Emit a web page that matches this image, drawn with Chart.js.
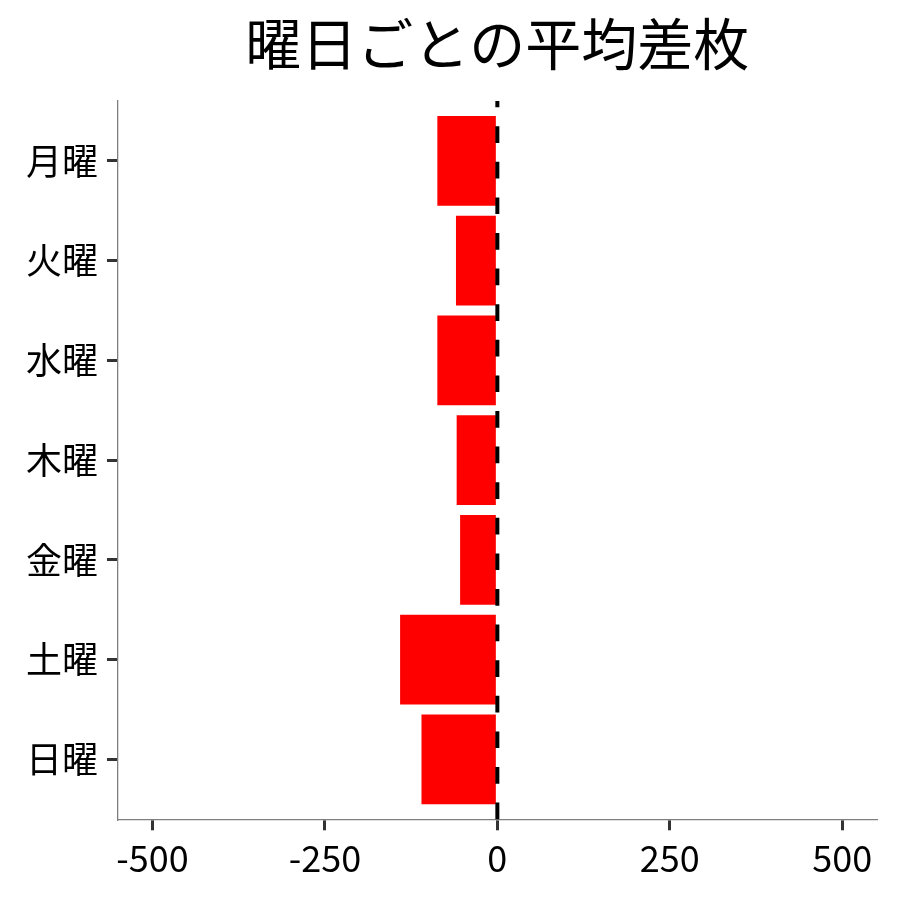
<!DOCTYPE html>
<html>
<head>
<meta charset="utf-8">
<script src="https://cdn.jsdelivr.net/npm/chart.js@4"></script>
<style>
  body { margin: 0; background: #fff; }
</style>
</head>
<body>
<canvas id="myChart" width="900" height="900"></canvas>
<script>
const titleText = "曜日ごとの平均差枚";
const days = ["月曜", "火曜", "水曜", "木曜", "金曜", "土曜", "日曜"];
const avgDiff = [-87, -60, -87, -59, -54, -141, -110];
const xTicks = [-500, -250, 0, 250, 500];

const fontFamily = "'Noto Sans CJK JP', 'Noto Sans', sans-serif";

// title centred over the plot panel, not the whole canvas
const panelTitle = {
    id: "panelTitle",
    afterDraw(chart) {
        const c = chart.ctx;
        const area = chart.chartArea;
        c.save();
        c.fillStyle = "#000";
        c.font = "56px " + fontFamily;
        c.textAlign = "center";
        c.textBaseline = "middle";
        c.fillText(titleText, (area.left + area.right) / 2, 44);
        c.restore();
    }
};

// dashed reference line at x = 0
const zeroLine = {
    id: "zeroLine",
    afterDatasetsDraw(chart) {
        const c = chart.ctx;
        const area = chart.chartArea;
        const x = chart.scales.x.getPixelForValue(0);
        c.save();
        c.strokeStyle = "#000";
        c.lineWidth = 4;
        c.setLineDash([16.7, 18.9]);
        c.beginPath();
        c.moveTo(x, area.bottom);
        c.lineTo(x, area.top);
        c.stroke();
        c.restore();
    }
};

const tickGrid = {
    drawOnChartArea: false,
    offset: false,
    tickLength: 11,
    lineWidth: 3,
    tickWidth: 3,
    tickColor: "#333"
};

const ctx = document.getElementById("myChart");
const myChart = new Chart(ctx, {
    type: "bar",
    data: {
        datasets: [{
            data: avgDiff.map((v, i) => ({ x: v, y: i })),
            backgroundColor: "#ff0000",
            borderWidth: 0,
            barPercentage: 0.9,
            categoryPercentage: 1.0
        }]
    },
    options: {
        indexAxis: "y",
        responsive: false,
        animation: false,
        layout: { padding: { top: 101, right: 23.3, left: 0, bottom: 0 } },
        plugins: {
            legend: { display: false },
            tooltip: { enabled: false },
            title: { display: false }
        },
        scales: {
            x: {
                type: "linear",
                min: -550,
                max: 550,
                offset: false,
                afterBuildTicks: scale => { scale.ticks = xTicks.map(v => ({ value: v })); },
                afterFit: scale => { scale.height = 80.7; },
                border: { color: "#7f7f7f", width: 1.3 },
                grid: tickGrid,
                ticks: {
                    color: "#000",
                    padding: 6,
                    font: { family: fontFamily, size: 36 },
                    callback: v => String(v)
                }
            },
            y: {
                type: "linear",
                reverse: true,
                min: -0.6,
                max: 6.6,
                offset: false,
                afterBuildTicks: scale => { scale.ticks = days.map((d, i) => ({ value: i })); },
                afterFit: scale => { scale.width = 118; },
                border: { color: "#7f7f7f", width: 1.3 },
                grid: tickGrid,
                ticks: {
                    color: "#000",
                    padding: 9,
                    font: { family: fontFamily, size: 36 },
                    callback: v => days[v]
                }
            }
        }
    },
    plugins: [panelTitle, zeroLine]
});
</script>
</body>
</html>
